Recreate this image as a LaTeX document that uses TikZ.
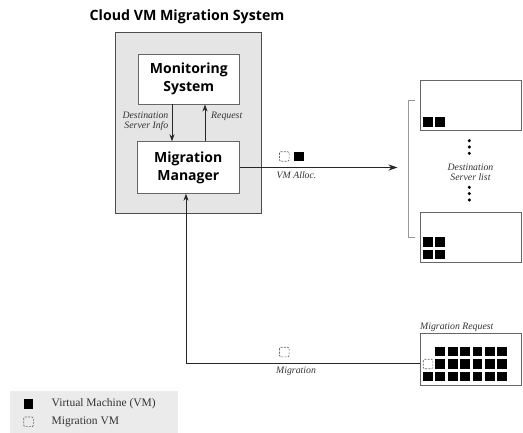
\documentclass[tikz,border=0pt]{standalone}
\usepackage{fontspec}
\setmainfont{Liberation Serif}
\newfontfamily\headfont{Open Sans}
\usetikzlibrary{arrows.meta}

% filled square for a virtual machine, dashed square for a migrating one
\newcommand\vmblock[2]{\fill[black] (#1,#2) rectangle ++(9.8,9.8);}
\newcommand\migblock[2]{\draw[black!60, dash pattern=on 2pt off 1.2pt, line width=0.65pt, rounded corners=1.2pt] (#1,#2) rectangle ++(9.6,9.6);}

\tikzset{
  panel/.style={draw=black!70, line width=0.8pt, fill=black!10, inner sep=0pt},
  unit/.style={draw=black!60, line width=0.8pt, fill=white, inner sep=0pt, align=center,
               font=\headfont\bfseries\fontsize{14}{18}\selectfont},
  server/.style={draw=black!60, line width=0.8pt, fill=white, inner sep=0pt},
  note/.style={font=\itshape\fontsize{9.8}{10}\selectfont, text=black!80, inner sep=0pt},
  flow/.style={line width=0.8pt, black!85, -{Stealth[length=7pt,width=5pt]}},
  legendtext/.style={font=\fontsize{11.5}{13}\selectfont, text=black!80, anchor=west, inner sep=0pt},
}

\begin{document}
\begin{tikzpicture}[x=1pt,y=-1pt]
\useasboundingbox (0,0) rectangle (523,433);

% title
\node[font=\headfont\bfseries\fontsize{14.2}{16}\selectfont] (title) at (187,16.5) {Cloud VM Migration System};

% system panel with its two units
\node[panel, minimum width=146.7pt, minimum height=181pt] (sys) at (188.3,122.8) {};
\node[unit, minimum width=101pt, minimum height=49.7pt] (ms) at (188.8,79.2) {Monitoring\\System};
\node[unit, minimum width=102pt, minimum height=51.6pt] (mm) at (188.3,167.5) {Migration\\Manager};

\draw[flow] ([xshift=-16.8pt]ms.south) -- ([xshift=-16.3pt]mm.north);
\draw[flow] ([xshift=16.7pt]mm.north) -- ([xshift=16.2pt]ms.south);
\node[note, align=right, anchor=east] (dinfo) at (168.5,121) {Destination\\Server Info};
\node[note, anchor=west] (req) at (211,116) {Request};

% destination servers
\node[server, minimum width=100.3pt, minimum height=50pt] (s1) at (470.8,105) {};
\node[server, minimum width=100.3pt, minimum height=49.6pt] (s2) at (470.8,237.5) {};
\vmblock{422.8}{117.5}\vmblock{435}{117.5}
\vmblock{422.8}{237.5}\vmblock{435}{237.5}
\vmblock{422.8}{249.6}\vmblock{435}{249.6}

\draw[black!40, line width=0.7pt] (415,100.3) -- (408.3,100.3) -- (408.3,237.7) -- (415,237.7);
\foreach \yy in {140.7,147,153.3,187.3,193.6,200}
  {\fill[black] (469.3,\yy) circle (1.7pt);}
\node[note, align=center] (dlist) at (470.5,172.5) {Destination\\Server list};

% allocation of a VM to a destination server
\coordinate (allocend) at (397.5,167.5);
\draw[flow, -{Stealth[length=9pt,width=6pt]}] (mm.east) -- (allocend);
\migblock{279.5}{151.7}
\vmblock{294}{151.7}
\node[note, anchor=west] (alloc) at (276.5,175) {VM Alloc.};

% pending migration requests
\node[note, anchor=west] (mrlabel) at (420,327) {Migration Request};
\node[server, minimum width=101pt, minimum height=52pt] (mr) at (470.7,359.8) {};
\foreach \i in {1,...,6} {\vmblock{423+12.4*\i}{346.7}}
\migblock{423.3}{359.2}
\foreach \i in {1,...,6} {\vmblock{423+12.4*\i}{359}}
\foreach \i in {0,...,6} {\vmblock{423+12.4*\i}{371.6}}

\draw[flow] ([yshift=-3.8pt]mr.west) -| ([xshift=-2.3pt]mm.south);
\migblock{279.5}{347.3}
\node[note, anchor=west] (mig) at (276,371) {Migration};

% legend
\fill[black!8] (10,391) rectangle (178,433);
\vmblock{23.5}{399.3}
\node[legendtext] (lvm) at (51.5,403.5) {Virtual Machine (VM)};
\migblock{23.8}{417}
\node[legendtext] (lmig) at (51.5,421.5) {Migration VM};
\end{tikzpicture}
\end{document}
